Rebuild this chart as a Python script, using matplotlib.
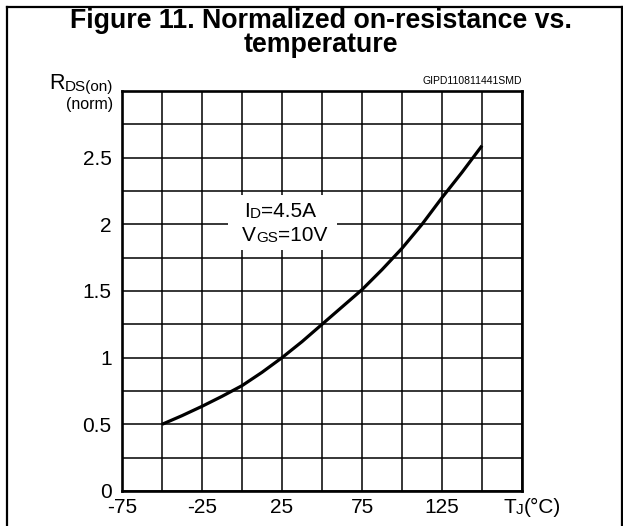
"""
Normalized on-resistance vs. junction temperature (datasheet figure 11).
"""
import matplotlib
matplotlib.use('Agg')
import matplotlib.pyplot as plt
from matplotlib.lines import Line2D
from matplotlib.patches import Rectangle
import matplotlib.transforms as mtransforms

plt.rcParams['font.family'] = ['Liberation Sans', 'DejaVu Sans']

# curve
temp_c = [-50, -37.5, -25, -12.5, 0, 12.5, 25, 37.5, 50, 62.5, 75, 87.5, 100, 112.5, 125, 137.5, 150]
rds_norm = [0.50, 0.565, 0.635, 0.71, 0.79, 0.89, 1.0, 1.12, 1.25, 1.38, 1.51, 1.66, 1.82, 2.0, 2.2, 2.39, 2.59]

x_ticks = [-75, -50, -25, 0, 25, 50, 75, 100, 125, 150, 175]
x_labels = ['-75', '', '-25', '', '25', '', '75', '', '125', '', '']
y_ticks = [0, 0.25, 0.5, 0.75, 1, 1.25, 1.5, 1.75, 2, 2.25, 2.5, 2.75, 3]
y_labels = ['0', '', '0.5', '', '1', '', '1.5', '', '2', '', '2.5', '', '']

W, H = 623, 526
fig = plt.figure(figsize=(W / 100, H / 100), dpi=100)


def px(dx, dy):
    return mtransforms.ScaledTranslation(dx / 100, dy / 100, fig.dpi_scale_trans)


def chain(first, parts, **kw):
    """Put text pieces one after another on a shared bottom line (small-cap subscripts)."""
    prev = first
    for s, size in parts:
        prev = ax.annotate(s, xy=(1, 0), xycoords=prev, ha='left', va='bottom',
                           fontsize=size, **kw)
    return prev


# page frame (left, top, right edges)
for xs, ys in [([7 / W, 7 / W], [0, 1 - 7 / H]),
               ([7 / W, 622 / W], [1 - 7 / H, 1 - 7 / H]),
               ([622 / W, 622 / W], [0, 1 - 7 / H])]:
    fig.add_artist(Line2D(xs, ys, transform=fig.transFigure, color='black', lw=1.6))

fig.text(321 / W, 1 - 28 / H, 'Figure 11. Normalized on-resistance vs.',
         ha='center', va='baseline', fontsize=19.3, fontweight='bold')
fig.text(321 / W, 1 - 52.5 / H, 'temperature',
         ha='center', va='baseline', fontsize=19.3, fontweight='bold')

ax = fig.add_axes([122 / W, 35 / H, 400 / W, 400 / H])
ax.plot(temp_c, rds_norm, color='black', lw=2.3, zorder=4, solid_capstyle='butt')

ax.set_xlim(-75, 175)
ax.set_ylim(0, 3)
ax.set_xticks(x_ticks)
ax.set_xticklabels(x_labels)
ax.set_yticks(y_ticks)
ax.set_yticklabels(y_labels)
ax.tick_params(length=0, labelsize=15)
ax.tick_params(axis='y', pad=7.5)
ax.tick_params(axis='x', pad=5)
ax.grid(True, color='black', lw=1.1)
ax.set_axisbelow(True)
for sp in ax.spines.values():
    sp.set_linewidth(1.9)

# temperature caption in the last x label slot
t_cap = ax.text(175, 0, 'T', ha='left', va='top', fontsize=15,
                transform=ax.get_xaxis_transform() + px(-19, -7))
chain(t_cap, [('J', 11), ('(°C)', 15)])

# condition note on a white patch
ax.add_patch(Rectangle((-8.75, 1.81), 68, 0.41, facecolor='white', edgecolor='none', zorder=2.5))
i_txt = ax.text(1.5, 2.055, 'I', ha='left', va='baseline', fontsize=15, zorder=3)
chain(i_txt, [('D', 11), ('=4.5A', 15)])
v_txt = ax.text(0, 1.875, 'V', ha='left', va='baseline', fontsize=15, zorder=3)
chain(v_txt, [('GS', 11), ('=10V', 15)])

ax.text(1, 1.012, 'GIPD110811441SMD', transform=ax.transAxes, ha='right', va='bottom',
        fontsize=7.5)

# y caption, right aligned at the tick label column
ds_txt = ax.text(-0.023, 1.0, 'DS(on)', transform=ax.transAxes, ha='right',
                 va='baseline', fontsize=11)
ax.annotate('R', xy=(0, 0), xycoords=ds_txt, ha='right', va='bottom', fontsize=15.5)
ax.text(-0.023, 0.967, '(norm)', transform=ax.transAxes, ha='right', va='center',
        fontsize=11.5)

fig.savefig('out.png', dpi=100)
